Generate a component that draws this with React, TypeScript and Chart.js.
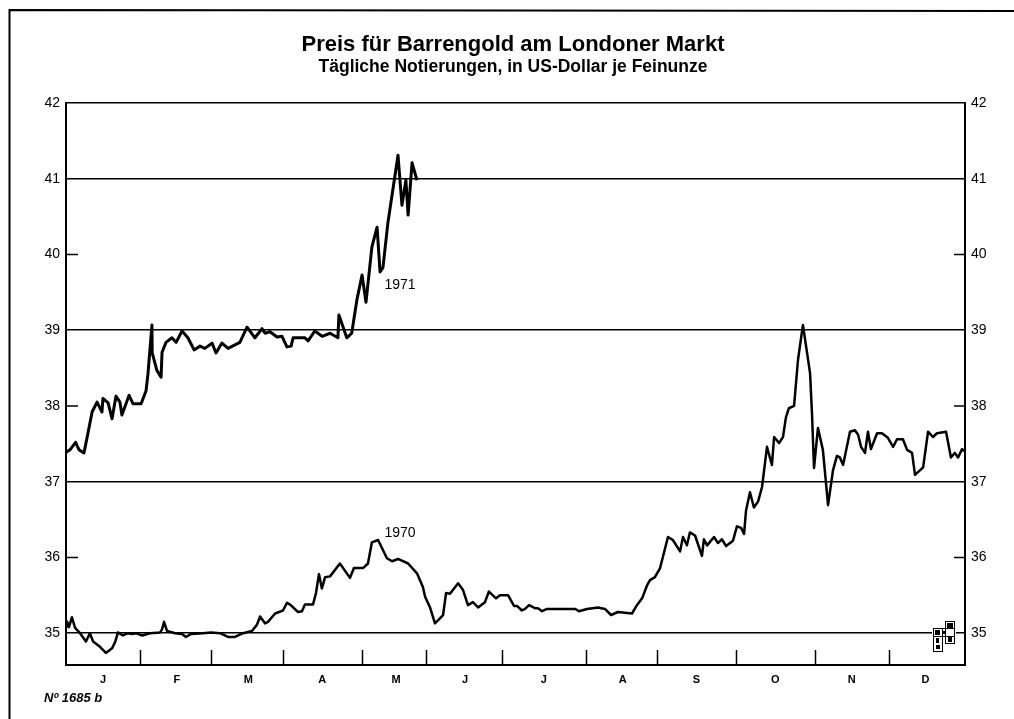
import React, { useEffect, useRef } from "react";
import { Chart, registerables } from "chart.js";

Chart.register(...registerables);

const titleText = "Preis für Barrengold am Londoner Markt";
const subtitleText = "Tägliche Notierungen, in US-Dollar je Feinunze";
const noteText = "Nº 1685 b";

const monthLabels = ["J", "F", "M", "A", "M", "J", "J", "A", "S", "O", "N", "D"];
const monthBoundaries = [0, 30, 59, 88, 120, 146, 177, 211, 240, 272, 304, 334, 365];
const monthCenters = [15, 45, 74, 104, 134, 162, 194, 226, 256, 288, 319, 349];
const gridPrices = [35, 37, 39, 41, 42];
const shortTickPrices = [36, 38, 40];
const axisPrices = [35, 36, 37, 38, 39, 40, 41, 42];

const days1971 = [0, 1.6, 3.9, 5.3, 7.3, 8.9, 10.6, 12.6, 14.6, 15, 17.1, 18.7, 20.3, 21.9, 22.7, 25.6, 27.2, 30.5, 32.5, 33.3, 34.9, 35, 36.9, 38.6, 39, 40.6, 43, 44.7, 47.1, 49.5, 52, 54.4, 56.4, 59.3, 60.9, 63.3, 65.8, 70.6, 73.5, 76.7, 79.6, 80.8, 82.8, 85.7, 87.7, 89.7, 91.4, 92.2, 97, 98.3, 101, 104, 107.2, 110.4, 110.8, 114, 116, 118.1, 120.2, 121.8, 124.2, 126.3, 127.5, 128.7, 130.7, 134.8, 136.4, 138, 138.9, 140.5, 142.5];
const gold1971 = [37.39, 37.42, 37.52, 37.42, 37.38, 37.64, 37.92, 38.05, 37.92, 38.1, 38.04, 37.83, 38.13, 38.05, 37.88, 38.14, 38.03, 38.03, 38.2, 38.43, 39.07, 38.7, 38.47, 38.38, 38.71, 38.84, 38.9, 38.84, 38.99, 38.9, 38.74, 38.79, 38.76, 38.83, 38.7, 38.83, 38.76, 38.84, 39.04, 38.9, 39.02, 38.96, 38.98, 38.91, 38.92, 38.78, 38.79, 38.9, 38.9, 38.86, 38.99, 38.92, 38.96, 38.9, 39.2, 38.9, 38.96, 39.4, 39.73, 39.37, 40.1, 40.36, 39.77, 39.83, 40.42, 41.31, 40.65, 40.98, 40.52, 41.21, 40.98];

const days1970 = [0, 0.5, 1.2, 2.4, 3.7, 5.7, 8.1, 9.7, 11, 13.8, 16.2, 18.7, 19.9, 21.1, 23.1, 25.2, 26.8, 28.4, 30.9, 34.1, 38.2, 39, 39.8, 41, 44.3, 47.1, 48.7, 50.8, 55.6, 58.9, 62.5, 65.8, 68.6, 71.9, 75.5, 77.5, 78.8, 80.8, 82, 84.9, 88.1, 89.7, 90.9, 94.2, 95.8, 97, 100.3, 101.5, 102.7, 103.9, 105.2, 107.2, 111.2, 115.3, 116.9, 120.6, 122.6, 124.2, 126.7, 130.3, 132.4, 134.8, 138.9, 142.5, 144.9, 145.8, 147.8, 149.8, 153.1, 154.3, 155.9, 159.2, 161.2, 163.2, 165.2, 167.3, 170.1, 171.7, 174.6, 176.2, 179.5, 181.9, 183.1, 185.1, 186.4, 188, 190.4, 191.6, 193.3, 195.3, 198.5, 206.7, 208.3, 211.5, 216, 218.8, 221.3, 224.1, 229.8, 231.8, 233.9, 235.9, 237.1, 239.1, 241.2, 244.4, 246.4, 249.3, 250.5, 252.1, 253.3, 255.4, 258.2, 259, 260.3, 263.1, 264.7, 266.3, 268, 270.8, 272.4, 274.1, 275.3, 276.1, 277.7, 279.3, 281, 282.6, 284.6, 286.6, 287.5, 289.5, 291.1, 292.3, 293.5, 295.6, 297.2, 299.2, 302.1, 302.9, 303.7, 305.3, 307.3, 309.4, 311.4, 313, 314.2, 315.5, 318.3, 320.3, 321.6, 322.8, 324.4, 325.6, 326.8, 329.3, 331.3, 333.7, 335.8, 337.4, 339.8, 341.5, 343.5, 344.7, 348, 350, 352, 353.6, 357.3, 359.3, 360.9, 362.2, 363.8, 365];
const gold1970 = [35.07, 35.15, 35.08, 35.21, 35.07, 35, 34.89, 35, 34.89, 34.82, 34.74, 34.8, 34.88, 35.01, 34.97, 35, 34.99, 35, 34.97, 35, 35.01, 35.05, 35.15, 35.03, 35, 34.99, 34.95, 34.99, 35, 35.01, 35, 34.95, 34.95, 35, 35.03, 35.11, 35.22, 35.13, 35.15, 35.26, 35.3, 35.4, 35.38, 35.28, 35.29, 35.38, 35.38, 35.53, 35.78, 35.59, 35.74, 35.75, 35.92, 35.73, 35.86, 35.86, 35.92, 36.2, 36.23, 35.99, 35.95, 35.98, 35.92, 35.79, 35.61, 35.48, 35.34, 35.13, 35.24, 35.53, 35.52, 35.66, 35.57, 35.37, 35.41, 35.34, 35.41, 35.55, 35.46, 35.5, 35.5, 35.36, 35.36, 35.3, 35.32, 35.37, 35.33, 35.33, 35.29, 35.32, 35.32, 35.32, 35.29, 35.32, 35.34, 35.32, 35.24, 35.28, 35.26, 35.37, 35.46, 35.63, 35.7, 35.74, 35.86, 36.27, 36.23, 36.08, 36.27, 36.16, 36.33, 36.29, 36.02, 36.24, 36.16, 36.27, 36.19, 36.24, 36.15, 36.22, 36.41, 36.39, 36.31, 36.62, 36.86, 36.66, 36.74, 36.93, 37.46, 37.22, 37.59, 37.51, 37.59, 37.85, 37.97, 38, 38.61, 39.07, 38.43, 37.88, 37.18, 37.71, 37.42, 36.69, 37.15, 37.34, 37.32, 37.22, 37.66, 37.68, 37.62, 37.46, 37.38, 37.66, 37.43, 37.64, 37.64, 37.58, 37.46, 37.56, 37.56, 37.42, 37.38, 37.09, 37.19, 37.66, 37.59, 37.64, 37.66, 37.32, 37.38, 37.32, 37.43, 37.4];

const seriesLabelNames = ["1971", "1970"];
const seriesLabelDays = [135.6, 135.6];
const seriesLabelPrices = [39.6, 36.32];

const sans = "'Liberation Sans', Arial, sans-serif";

const decorations = {
  id: "decorations",
  afterDraw(chart: any) {
    const { ctx, chartArea, scales } = chart;
    const { left, right, bottom } = chartArea;
    ctx.save();
    ctx.strokeStyle = "#000";
    ctx.fillStyle = "#000";

    // outer frame of the page
    ctx.lineWidth = 2;
    ctx.beginPath();
    ctx.moveTo(9.5, 719);
    ctx.lineTo(9.5, 10);
    ctx.lineTo(1014, 11);
    ctx.stroke();

    // short price ticks
    ctx.lineWidth = 1.5;
    ctx.beginPath();
    shortTickPrices.forEach((p) => {
      const y = scales.y.getPixelForValue(p);
      ctx.moveTo(left, y);
      ctx.lineTo(left + 12, y);
      ctx.moveTo(right, y);
      ctx.lineTo(right - 11, y);
    });
    ctx.stroke();

    // month boundary ticks
    ctx.beginPath();
    monthBoundaries.slice(1, -1).forEach((d) => {
      const x = Math.round(scales.x.getPixelForValue(d)) + 0.5;
      ctx.moveTo(x, bottom);
      ctx.lineTo(x, bottom - 15);
    });
    ctx.stroke();

    // series names
    ctx.font = `14px ${sans}`;
    ctx.textAlign = "center";
    ctx.textBaseline = "middle";
    seriesLabelNames.forEach((name, i) => {
      ctx.fillText(name, scales.x.getPixelForValue(seriesLabelDays[i]), scales.y.getPixelForValue(seriesLabelPrices[i]));
    });

    // chart number
    ctx.font = `italic bold 13px ${sans}`;
    ctx.textAlign = "left";
    ctx.fillText(noteText, 44, 698);

    // publisher mark
    ctx.fillStyle = "#fff";
    ctx.fillRect(932, 620, 24, 32);
    ctx.fillStyle = "#000";
    ctx.lineWidth = 1;
    ctx.strokeRect(933.5, 628.5, 9, 23);
    ctx.strokeRect(945.5, 621.5, 9, 22);
    ctx.strokeRect(933.5, 628.5, 21, 8);
    ctx.fillRect(935, 630, 5, 5);
    ctx.fillRect(947, 623, 6, 5);
    ctx.fillRect(943, 631, 3, 3);
    ctx.fillRect(948, 637, 4, 5);
    ctx.fillRect(936, 638, 3, 5);
    ctx.fillRect(936, 645, 4, 4);
    ctx.restore();
  },
};

export default function App() {
  const ref = useRef<HTMLCanvasElement>(null);

  useEffect(() => {
    const chart = new Chart(ref.current as HTMLCanvasElement, {
      type: "line",
      data: {
        datasets: [
          {
            label: "1971",
            data: days1971.map((d, i) => ({ x: d, y: gold1971[i] })),
            borderColor: "#000",
            borderWidth: 3,
            borderJoinStyle: "round",
            pointRadius: 0,
            tension: 0,
            yAxisID: "y",
          },
          {
            label: "1970",
            data: days1970.map((d, i) => ({ x: d, y: gold1970[i] })),
            borderColor: "#000",
            borderWidth: 2.5,
            borderJoinStyle: "round",
            pointRadius: 0,
            tension: 0,
            yAxisID: "y",
          },
        ],
      },
      options: {
        responsive: false,
        animation: false,
        layout: { padding: { left: 12, top: 0, right: 0, bottom: 0 } },
        plugins: {
          legend: { display: false },
          tooltip: { enabled: false },
          title: {
            display: true,
            text: titleText,
            color: "#000",
            font: { family: sans, size: 22, weight: "bold", lineHeight: "22px" },
            padding: { top: 34, bottom: 0 },
          },
          subtitle: {
            display: true,
            text: subtitleText,
            color: "#000",
            font: { family: sans, size: 17.5, weight: "bold", lineHeight: "16px" },
            padding: { top: 3, bottom: 28 },
          },
        },
        scales: {
          x: {
            type: "linear",
            min: 0,
            max: 365,
            afterBuildTicks(scale: any) {
              scale.ticks = monthCenters.map((v) => ({ value: v }));
            },
            afterFit(scale: any) {
              scale.height = 54;
            },
            grid: { display: false, drawTicks: false },
            border: { display: true, color: "#000", width: 2 },
            ticks: {
              autoSkip: false,
              maxRotation: 0,
              padding: 8,
              color: "#000",
              font: { family: sans, size: 11, weight: "bold" },
              callback(value: any) {
                return monthLabels[monthCenters.indexOf(value)];
              },
            },
          },
          y: {
            type: "linear",
            position: "left",
            min: 34.58,
            max: 42,
            afterBuildTicks(scale: any) {
              scale.ticks = axisPrices.map((v) => ({ value: v }));
            },
            afterFit(scale: any) {
              scale.width = 54;
            },
            grid: {
              drawTicks: false,
              lineWidth: 1.5,
              color: (ctx: any) => (gridPrices.includes(ctx.tick?.value) ? "#000" : "rgba(0,0,0,0)"),
            },
            border: { display: true, color: "#000", width: 2 },
            ticks: {
              padding: 6,
              color: "#000",
              font: { family: sans, size: 14 },
            },
          },
          y2: {
            type: "linear",
            position: "right",
            min: 34.58,
            max: 42,
            afterBuildTicks(scale: any) {
              scale.ticks = axisPrices.map((v) => ({ value: v }));
            },
            afterFit(scale: any) {
              scale.width = 49;
            },
            grid: { display: false, drawTicks: false },
            border: { display: true, color: "#000", width: 2 },
            ticks: {
              padding: 6,
              color: "#000",
              font: { family: sans, size: 14 },
            },
          },
        },
      },
      plugins: [decorations],
    } as any);
    return () => chart.destroy();
  }, []);

  return (
    <div style={{ position: "fixed", left: 0, top: 0, width: 1014, height: 719, background: "#fff" }}>
      <canvas ref={ref} width={1014} height={719} style={{ display: "block" }} />
    </div>
  );
}
